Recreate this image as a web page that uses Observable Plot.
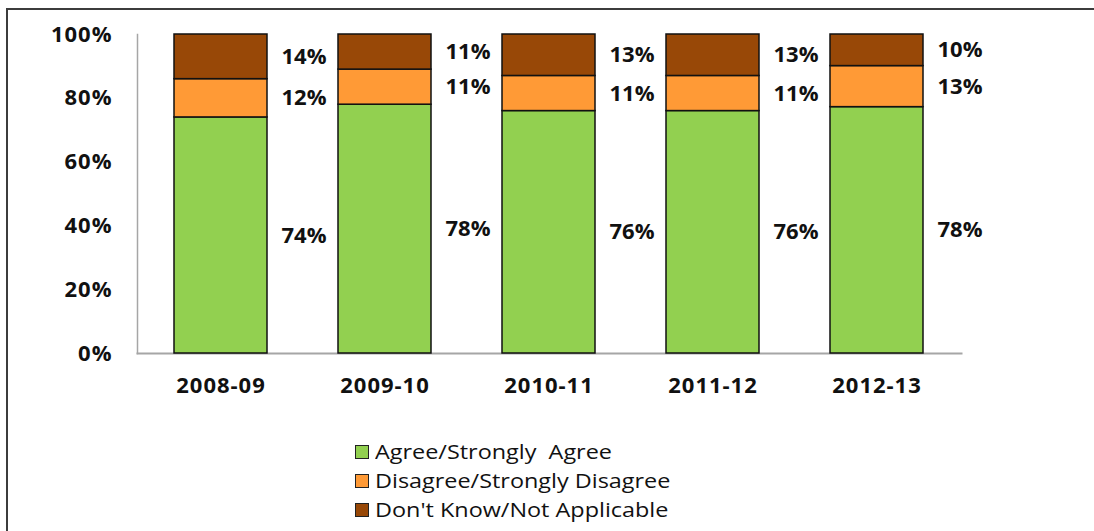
<!DOCTYPE html>
<html>
<head>
<meta charset="utf-8">
<script src="https://cdn.jsdelivr.net/npm/d3@7"></script>
<script src="https://cdn.jsdelivr.net/npm/@observablehq/plot@0.6"></script>
<style>
  html, body { margin: 0; padding: 0; background: #fff; overflow: hidden; }
  #page { position: relative; width: 1094px; height: 531px; overflow: hidden; }
  #border { position: absolute; left: 6px; top: 8px; width: 1120px; height: 600px;
            border: 2px solid #3c3c3c; box-sizing: border-box; }
  #chart { position: absolute; left: 0; top: 0; }
  #chart svg g[aria-label$="tick label"] text { letter-spacing: 1px; }
  #legend { position: absolute; left: 355px; top: 437px; font-family: "Open Sans", sans-serif;
            font-size: 20px; color: #111; }
  .item { display: flex; align-items: center; height: 29px; white-space: pre; }
  .swatch { width: 12px; height: 12px; border: 1.5px solid #222; margin-right: 6px; flex: none; }
  .name { display: inline-block; transform: scaleX(1.17); transform-origin: left center; }
</style>
</head>
<body>
<div id="page">
  <div id="border"></div>
  <div id="chart"></div>
  <div id="legend"></div>
</div>
<script>
// School years on the x axis
const years = ["2008-09", "2009-10", "2010-11", "2011-12", "2012-13"];

// Response shares (percent) per year
const agree    = [74, 78, 76, 76, 78];
const disagree = [12, 11, 11, 11, 13];
const dontKnow = [14, 11, 13, 13, 10];

// Series, bottom to top, with their legend labels and fills
const seriesNames  = ["Agree/Strongly  Agree", "Disagree/Strongly Disagree", "Don't Know/Not Applicable"];
const seriesColors = ["#92d050", "#ff9a36", "#984807"];

const yTicks = [0, 0.2, 0.4, 0.6, 0.8, 1];

// Long-format rows for the stacked bars
const seriesValues = [agree, disagree, dontKnow];
const rows = [];
years.forEach((year, i) => {
  seriesNames.forEach((name, s) => rows.push({year, series: name, value: seriesValues[s][i]}));
});

// 100% stacked columns
const stackOpts = {offset: "normalize", x: "year", y: "value", z: "series", order: seriesNames};

const chart = Plot.plot({
  width: 1094,
  height: 403,
  marginLeft: 137,
  marginRight: 133,
  marginTop: 34,
  marginBottom: 50,
  style: {fontFamily: "Open Sans, sans-serif", fontSize: "22px", fontWeight: "bold", color: "#111", background: "transparent"},
  x: {domain: years, paddingInner: 0.43, paddingOuter: 0.215, tickSize: 0, tickPadding: 24, label: null},
  y: {domain: [0, 1], ticks: yTicks, tickFormat: d3.format(".0%"), tickSize: 0, tickPadding: 25, label: null},
  color: {domain: seriesNames, range: seriesColors},
  marks: [
    Plot.frame({anchor: "left", stroke: "#a6a6a6", strokeWidth: 1.5}),
    Plot.frame({anchor: "bottom", stroke: "#a6a6a6", strokeWidth: 2}),
    Plot.barY(rows, Plot.stackY({...stackOpts, fill: "series", stroke: "#111", strokeWidth: 1.5})),
    // value labels sit midway between neighbouring columns
    Plot.text(rows, Plot.stackY({...stackOpts, text: d => d.value + "%", dx: 83,
      fontSize: 22, fontWeight: "bold", fill: "#111"}))
  ]
});
document.getElementById("chart").appendChild(chart);

// Legend below the plot
const legend = document.getElementById("legend");
seriesNames.forEach((name, i) => {
  const item = document.createElement("div");
  item.className = "item";
  const sw = document.createElement("span");
  sw.className = "swatch";
  sw.style.background = seriesColors[i];
  const label = document.createElement("span");
  label.className = "name";
  label.textContent = name;
  item.append(sw, label);
  legend.appendChild(item);
});
</script>
</body>
</html>
